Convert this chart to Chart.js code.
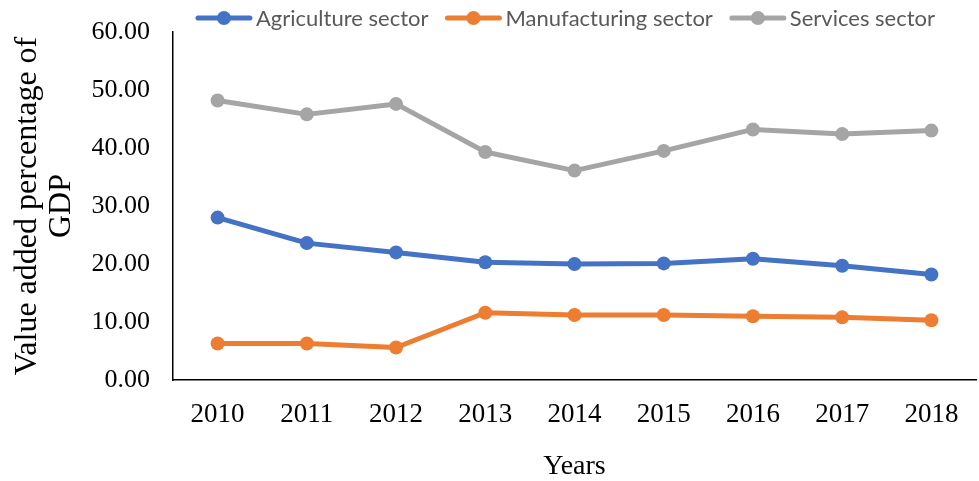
<!DOCTYPE html>
<html>
<head>
<meta charset="utf-8">
<script src="https://cdn.jsdelivr.net/npm/chart.js@4"></script>
<style>
  html, body { margin: 0; padding: 0; background: #fff; overflow: hidden; }
  canvas { display: block; }
</style>
</head>
<body>
<canvas id="sectorChart" width="983" height="481"></canvas>
<script>
var years = ["2010", "2011", "2012", "2013", "2014", "2015", "2016", "2017", "2018"];
var agriculture = [28.0, 23.6, 22.0, 20.3, 20.0, 20.1, 20.9, 19.7, 18.2];
var manufacturing = [6.3, 6.3, 5.6, 11.6, 11.2, 11.2, 11.0, 10.8, 10.3];
var services = [48.2, 45.8, 47.6, 39.3, 36.1, 39.5, 43.2, 42.4, 43.0];
var yTicks = [0, 10, 20, 30, 40, 50, 60];

var serif = "'Liberation Serif', 'Times New Roman', serif";

function series(label, color, values) {
  return {
    label: label,
    data: values,
    borderColor: color,
    backgroundColor: color,
    borderWidth: 5,
    borderJoinStyle: 'round',
    borderCapStyle: 'round',
    pointRadius: 7,
    pointHoverRadius: 7,
    pointBorderWidth: 0,
    pointBackgroundColor: color,
    tension: 0
  };
}

// legend on top: line with a dot in the middle, then the label
var lineLegend = {
  id: 'lineLegend',
  afterDraw: function (chart) {
    var ctx = chart.ctx;
    var sets = chart.data.datasets;
    var markW = 56, textGap = 4, itemGap = 17, y = 18;
    ctx.save();
    ctx.font = "22px Lato, 'Open Sans', sans-serif";
    ctx.textBaseline = 'middle';
    var total = 0;
    sets.forEach(function (ds, i) {
      total += markW + textGap + ctx.measureText(ds.label).width;
      if (i < sets.length - 1) total += itemGap;
    });
    var area = chart.chartArea;
    var x = (area.left + area.right) / 2 - 9 - total / 2;
    sets.forEach(function (ds) {
      ctx.strokeStyle = ds.borderColor;
      ctx.lineWidth = 5;
      ctx.lineCap = 'round';
      ctx.beginPath();
      ctx.moveTo(x + 2, y);
      ctx.lineTo(x + markW - 2, y);
      ctx.stroke();
      ctx.fillStyle = ds.borderColor;
      ctx.beginPath();
      ctx.arc(x + markW / 2, y, 7, 0, Math.PI * 2);
      ctx.fill();
      x += markW + textGap;
      ctx.fillStyle = '#595959';
      ctx.textAlign = 'left';
      ctx.fillText(ds.label, x, y + 1);
      x += ctx.measureText(ds.label).width + itemGap;
    });
    ctx.restore();
  }
};

var ctx = document.getElementById('sectorChart').getContext('2d');
var sectorChart = new Chart(ctx, {
  type: 'line',
  data: {
    labels: years,
    datasets: [
      series("Agriculture sector", "#4472C4", agriculture),
      series("Manufacturing sector", "#ED7D31", manufacturing),
      series("Services sector", "#A5A5A5", services)
    ]
  },
  options: {
    responsive: false,
    animation: false,
    layout: { padding: { top: 32, left: 0, right: 0, bottom: 0 } },
    plugins: {
      legend: { display: false },
      tooltip: { enabled: false }
    },
    scales: {
      x: {
        offset: true,
        grid: { display: false, drawTicks: false },
        border: { display: true, color: '#000', width: 1.5 },
        ticks: {
          color: '#000',
          padding: 19,
          font: { family: serif, size: 27 },
          maxRotation: 0,
          autoSkip: false
        },
        title: {
          display: true,
          text: 'Years',
          color: '#000',
          font: { family: serif, size: 28, lineHeight: 1 },
          padding: { top: 0, bottom: 0 }
        },
        afterFit: function (scale) { scale.height = 101; }
      },
      y: {
        min: 0,
        max: 60,
        grid: { display: false, drawTicks: false },
        border: { display: true, color: '#000', width: 1.5 },
        afterBuildTicks: function (scale) {
          scale.ticks = yTicks.map(function (v) { return { value: v }; });
        },
        ticks: {
          color: '#000',
          padding: 23,
          font: { family: serif, size: 26 },
          callback: function (v) { return Number(v).toFixed(2); }
        },
        title: {
          display: true,
          text: ['Value added percentage of', 'GDP'],
          color: '#000',
          font: { family: serif, size: 32, lineHeight: 1.06 },
          padding: { top: 11, bottom: 0 }
        },
        afterFit: function (scale) {
          scale.width = 173;
          scale.paddingTop = 0;
          scale.paddingBottom = 0;
        }
      }
    }
  },
  plugins: [lineLegend]
});
</script>
</body>
</html>
